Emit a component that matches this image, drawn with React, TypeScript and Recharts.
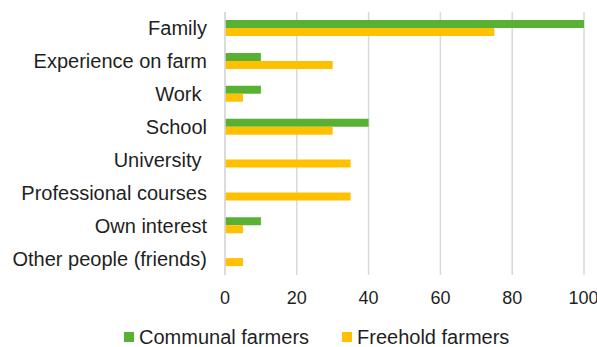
import React from 'react';
import { BarChart, Bar, XAxis, YAxis, CartesianGrid, Legend } from 'recharts';

// Source of farming knowledge, % of respondents
const sources = [
  'Family',
  'Experience on farm',
  'Work ',
  'School',
  'University ',
  'Professional courses',
  'Own interest',
  'Other people (friends)',
];
const communal = [100, 10, 10, 40, 0, 0, 10, 0];
const freehold = [75, 30, 5, 30, 35, 35, 5, 5];
const xTicks = [0, 20, 40, 60, 80, 100];

const GREEN = '#59b134';
const YELLOW = '#ffc000';
const FONT = '"Liberation Sans", Arial, sans-serif';

const data = sources.map((name, i) => ({
  name,
  communal: communal[i],
  freehold: freehold[i],
}));

// keeps trailing spaces in the category names
const SourceTick = (props: any) => {
  const { x, y, payload } = props;
  return (
    <text
      x={x}
      y={y}
      textAnchor="end"
      dominantBaseline="central"
      fill="#1f1f1f"
      fontSize={20}
      fontFamily={FONT}
      style={{ whiteSpace: 'pre' }}
    >
      {payload.value}
    </text>
  );
};

const legendItems = [
  { label: 'Communal farmers', color: GREEN },
  { label: 'Freehold farmers', color: YELLOW },
];

const LegendRow = () => (
  <div
    style={{
      height: 42,
      display: 'flex',
      alignItems: 'center',
      paddingLeft: 124,
      fontFamily: FONT,
      fontSize: 20,
      lineHeight: 1,
      color: '#1f1f1f',
      transform: 'translateY(11px)',
    }}
  >
    {legendItems.map((it, i) => (
      <div key={it.label} style={{ display: 'flex', alignItems: 'center', marginLeft: i ? 33 : 0 }}>
        <span style={{ width: 10, height: 10, background: it.color, marginRight: 5, display: 'inline-block' }} />
        <span>{it.label}</span>
      </div>
    ))}
  </div>
);

export default function App() {
  return (
    <div style={{ position: 'absolute', left: 0, top: 0, width: 597, height: 347, background: '#fff', overflow: 'hidden' }}>
      <BarChart
        width={597}
        height={347}
        data={data}
        layout="vertical"
        margin={{ top: 12, right: 13, left: 0, bottom: 0 }}
        barSize={8}
        barGap={0}
      >
        <CartesianGrid horizontal={false} stroke="#d9d9d9" strokeWidth={1.5} />
        <XAxis
          type="number"
          domain={[0, 100]}
          ticks={xTicks}
          axisLine={false}
          tickLine={false}
          tickSize={0}
          tickMargin={16}
          height={30}
          tick={{ fill: '#1f1f1f', fontSize: 18, fontFamily: FONT }}
        />
        <YAxis
          type="category"
          dataKey="name"
          width={225}
          axisLine={{ stroke: '#d9d9d9', strokeWidth: 1.5 }}
          tickLine={false}
          tickSize={0}
          tickMargin={18}
          tick={<SourceTick />}
        />
        <Legend verticalAlign="bottom" height={42} content={() => <LegendRow />} />
        <Bar dataKey="communal" name="Communal farmers" fill={GREEN} isAnimationActive={false} />
        <Bar dataKey="freehold" name="Freehold farmers" fill={YELLOW} isAnimationActive={false} />
      </BarChart>
    </div>
  );
}
